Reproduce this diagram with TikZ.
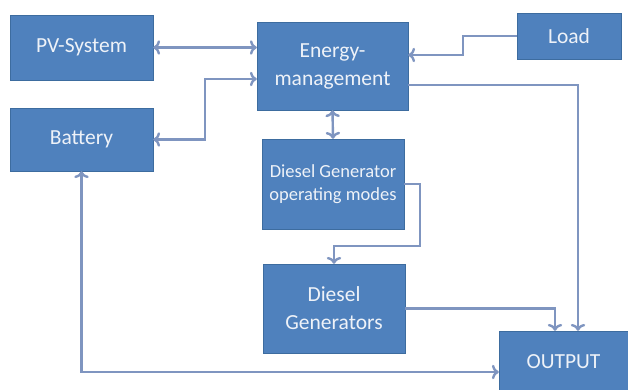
\documentclass[tikz,border=0pt]{standalone}
\usepackage{fontspec}
\setmainfont{Carlito}
\usetikzlibrary{arrows.meta}
\definecolor{boxblue}{HTML}{4F81BD}
\definecolor{boxedge}{HTML}{3D6C9F}
\definecolor{linkblue}{HTML}{7F95C0}
\definecolor{boxtext}{HTML}{EEF2F8}
\begin{document}
\begin{tikzpicture}[x=1pt,y=1pt,
    block/.style={rectangle,draw=boxedge,fill=boxblue,text=boxtext,align=center,
        inner sep=2pt,font=\fontsize{21.5}{28}\selectfont},
    link/.style={draw=linkblue,line width=2.4pt,arrows={-Straight Barb[length=5pt,width=10pt]}}]
            \useasboundingbox (0,0) rectangle (628,-390);
            \node[block,minimum width=143,minimum height=65] (pv) at (81.5,-47.5) {PV-System};
            \node[block,minimum width=143,minimum height=63] (bat) at (81.5,-139.5) {Battery};
            \node[block,minimum width=151,minimum height=88] (em) at (332.5,-66) {Energy-\\management};
            \node[block,minimum width=104,minimum height=46] (load) at (569,-36) {Load};
            \node[block,minimum width=142,minimum height=90,font=\fontsize{18.5}{23}\selectfont] (modes) at (333,-184) {Diesel Generator\\operating modes};
            \node[block,minimum width=142,minimum height=89] (gen) at (334,-308.5) {Diesel\\Generators};
            \node[block,minimum width=129,minimum height=62] (out) at (563.5,-362) {OUTPUT};

            \draw[link,<->] (pv.east) -- (pv.east -| em.west);
            \draw[link,<->] (bat.east) -- ++(52,0) |- ([yshift=-13]em.west);
            \draw[link,->] (load.west) -- ++(-54,0) |- ([yshift=11]em.east);
            \draw[link,->] ([yshift=-19]em.east) -| ([xshift=14.5]out.north);
            \draw[link,<->] (em.south) -- (modes.north);
            \draw[link,->] (modes.east) -- ++(16,0) -- ++(0,-62) -| (gen.north);
            \draw[link,->] (gen.east) -| ([xshift=-8.5]out.north);
            \draw[link,<->] (bat.south) |- ([yshift=-10]out.west);
        \end{tikzpicture}
\end{document}
